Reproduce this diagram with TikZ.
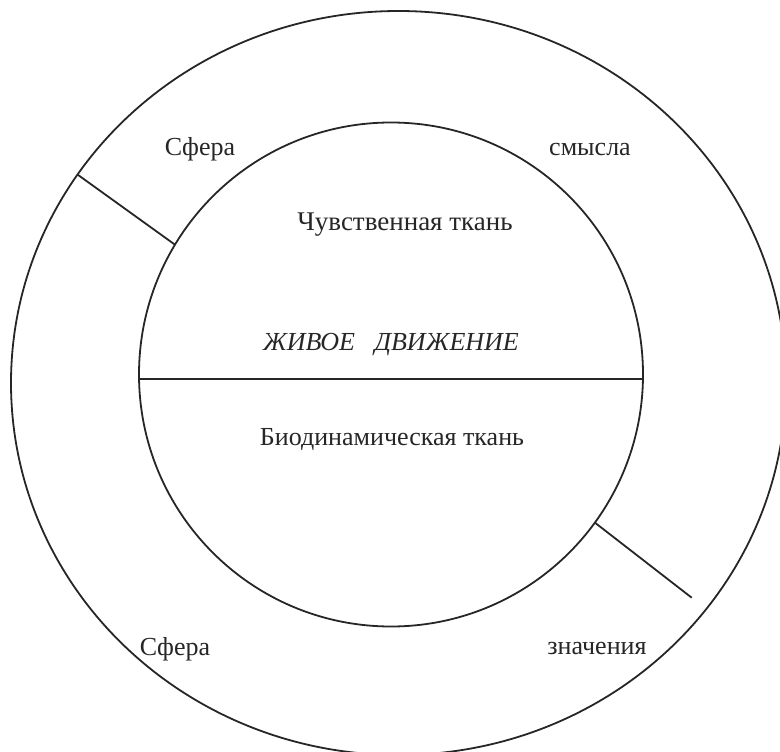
\documentclass[tikz,border=0pt]{standalone}
\usepackage{fontspec}
\setmainfont{Liberation Serif}
\usetikzlibrary{shapes.geometric}
\tikzset{
  ring/.style={draw=black!85, line width=1.8pt, inner sep=0pt, outer sep=0pt},
  rule/.style={draw=black!85, line width=1.8pt},
  lbl/.style={anchor=base, inner sep=0pt, font=\fontsize{26}{30}\selectfont, text=black!85}
}
\begin{document}
\begin{tikzpicture}[x=1pt,y=-1pt]
\useasboundingbox (0,0) rectangle (780,752);
\clip (0,0) rectangle (780,752);
\node[ring, ellipse, minimum width=775pt, minimum height=744pt] (outer) at (398.5,383) {};
\node[ring, circle, minimum size=504pt] (inner) at (391,374.5) {};
\draw[rule] (inner.181.7) -- (inner.-1.7);
\draw[rule] (outer.147.3) -- (inner.149.9);
\coordinate (lrend) at (691.7,597.7);
\draw[rule] (inner.-36.7) -- (lrend);
\node[lbl] (sf1) at (200,155) {Сфера};
\node[lbl] (sm) at (590,155) {смысла};
\node[lbl, font=\fontsize{27}{30}\selectfont] (chuv) at (405,230) {Чувственная ткань};
\node[lbl] (zhiv) at (391,350) {\itshape ЖИВОЕ\ \ \ ДВИЖЕНИЕ};
\node[lbl] (bio) at (392,445) {Биодинамическая ткань};
\node[lbl] (sf2) at (175,655) {Сфера};
\node[lbl] (zn) at (597,654) {значения};
\end{tikzpicture}
\end{document}
